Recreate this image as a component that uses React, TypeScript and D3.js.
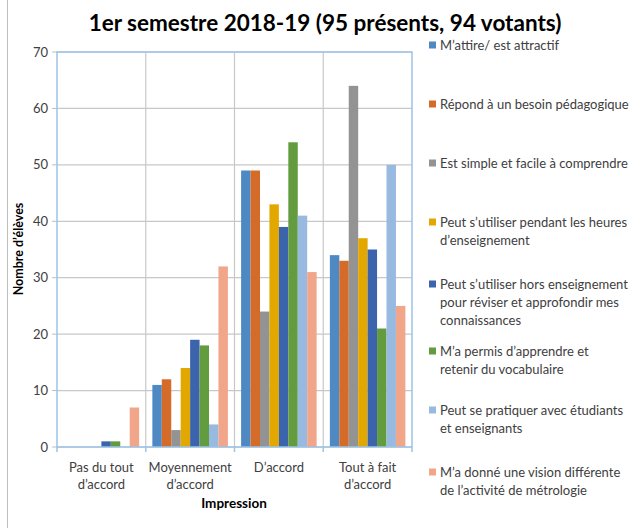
import React from "react";
import * as d3 from "d3";

const categories = [["Pas du tout", "d’accord"], ["Moyennement", "d’accord"], ["D’accord"], ["Tout à fait", "d’accord"]];
const seriesNames = [
  ["M’attire/ est attractif"],
  ["Répond à un besoin pédagogique"],
  ["Est simple et facile à comprendre"],
  ["Peut s’utiliser pendant les heures", "d’enseignement"],
  ["Peut s’utiliser hors enseignement", "pour réviser et approfondir mes", "connaissances"],
  ["M’a permis d’apprendre et", "retenir du vocabulaire"],
  ["Peut se pratiquer avec étudiants", "et enseignants"],
  ["M’a donné une vision différente", "de l’activité de métrologie"],
];
const colors = ["#4E89C4", "#D56B29", "#939393", "#E3A800", "#3B64AD", "#639B3F", "#98BAE0", "#F2A689"];
// values[series][category]
const values = [
  [0, 11, 49, 34],
  [0, 12, 49, 33],
  [0, 3, 24, 64],
  [0, 14, 43, 37],
  [1, 19, 39, 35],
  [1, 18, 54, 21],
  [0, 4, 41, 50],
  [7, 32, 31, 25],
];
const yTicks = [0, 10, 20, 30, 40, 50, 60, 70];
const legendY = [45, 104, 163, 222, 284, 351, 410, 472];

const FONT = "Lato, 'Open Sans', sans-serif";

export default function App() {
  const left = 57, right = 412, top = 52, bottom = 447;
  const x0 = d3.scaleBand<number>().domain(d3.range(categories.length)).range([left, right]).padding(0);
  const x1 = d3.scaleBand<number>().domain(d3.range(seriesNames.length)).range([0, x0.bandwidth()]).paddingInner(0).paddingOuter(0.7);
  const y = d3.scaleLinear().domain([0, 70]).range([bottom, top]);

  return (
    <svg width={641} height={528} style={{ position: "absolute", left: 0, top: 0, background: "#fff" }} fontFamily={FONT}>
      <line x1={7.5} x2={7.5} y1={0} y2={528} stroke="#BFBFBF" />
      <text x={325} y={31} textAnchor="middle" fontSize={22.5} fontWeight="bold" fill="#000">
        1er semestre 2018-19 (95 présents, 94 votants)
      </text>
      {/* gridlines */}
      {yTicks.map((t) => (
        <line key={"g" + t} x1={left} x2={right} y1={y(t)} y2={y(t)} stroke="#C8C8C8" strokeWidth={1.2} />
      ))}
      {d3.range(1, categories.length).map((i) => (
        <line key={"v" + i} x1={x0(i)!} x2={x0(i)!} y1={top} y2={bottom} stroke="#C8C8C8" strokeWidth={1.2} />
      ))}
      {/* bars */}
      {values.map((vals, s) =>
        vals.map((v, c) => (
          <rect
            key={s + "-" + c}
            x={x0(c)! + x1(s)!}
            width={x1.bandwidth()}
            y={y(v)}
            height={bottom - y(v)}
            fill={colors[s]}
          />
        ))
      )}
      {/* plot border */}
      <rect x={left} y={top} width={right - left} height={bottom - top} fill="none" stroke="#9DC3E6" strokeWidth={1.5} />
      {/* y ticks */}
      {yTicks.map((t) => (
        <g key={"yt" + t}>
          <line x1={left - 5} x2={left} y1={y(t)} y2={y(t)} stroke="#BFBFBF" />
          <text x={48} y={y(t)} dy="0.35em" textAnchor="end" fontSize={13} fill="#404040">{t}</text>
        </g>
      ))}
      {/* x ticks */}
      {d3.range(0, categories.length + 1).map((i) => {
        const xx = i < categories.length ? x0(i)! : right;
        return <line key={"xt" + i} x1={xx} x2={xx} y1={bottom} y2={bottom + 5} stroke="#9DC3E6" strokeWidth={1.5} />;
      })}
      {categories.map((lines, c) => (
        <text key={"xl" + c} x={x0(c)! + x0.bandwidth() / 2} y={467} textAnchor="middle" fontSize={13} fill="#404040">
          {lines.map((l, k) => (
            <tspan key={k} x={x0(c)! + x0.bandwidth() / 2} dy={k === 0 ? "0.35em" : 17.5}>{l}</tspan>
          ))}
        </text>
      ))}
      <text x={234} y={503} dy="0.35em" textAnchor="middle" fontSize={13.5} fontWeight="bold" fill="#000">Impression</text>
      <text transform={`translate(19,249) rotate(-90)`} dy="0.35em" textAnchor="middle" fontSize={12.5} fontWeight="bold" fill="#000">
        Nombre d’élèves
      </text>
      {/* legend */}
      {seriesNames.map((lines, s) => (
        <g key={"lg" + s}>
          <rect x={429} y={legendY[s] - 3.5} width={7} height={7} fill={colors[s]} />
          <text x={440} y={legendY[s]} fontSize={13} fill="#404040">
            {lines.map((l, k) => (
              <tspan key={k} x={440} dy={k === 0 ? "0.35em" : 18}>{l}</tspan>
            ))}
          </text>
        </g>
      ))}
    </svg>
  );
}
